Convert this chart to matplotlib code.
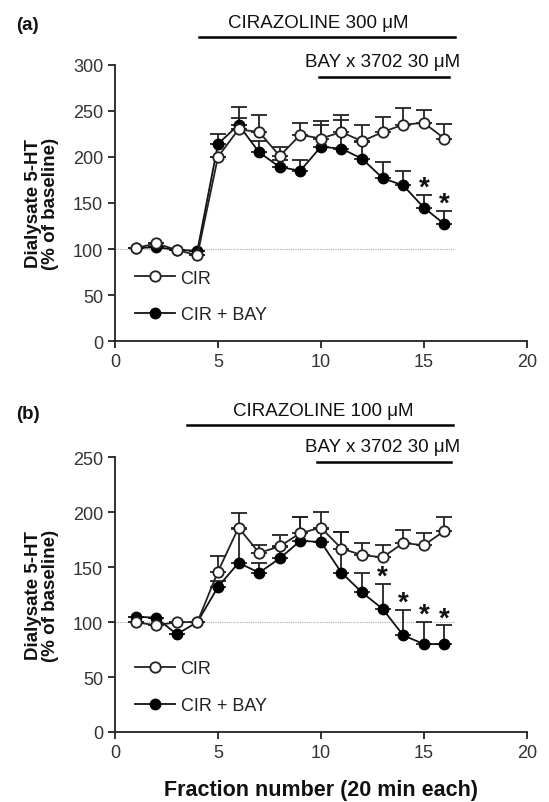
import matplotlib
matplotlib.use("Agg")
import matplotlib.pyplot as plt
import numpy as np

plt.rcParams['font.family'] = ['Liberation Sans', 'DejaVu Sans']

fractions = np.arange(1, 17)

# panel (a): cirazoline 300 uM
a_cir = [101, 106, 99, 93, 200, 230, 227, 201, 224, 220, 227, 217, 227, 235, 237, 220]
a_cir_err = [0, 0, 0, 0, 0, 24, 18, 10, 13, 19, 19, 18, 16, 18, 14, 16]
a_bay = [101, 102, 99, 98, 214, 235, 205, 189, 185, 211, 209, 198, 177, 169, 145, 127]
a_bay_err = [0, 0, 0, 0, 11, 7, 12, 8, 12, 24, 31, 18, 17, 16, 14, 14]
a_stars = [15, 16]

# panel (b): cirazoline 100 uM
b_cir = [100, 97, 100, 100, 146, 186, 163, 169, 181, 186, 167, 161, 159, 172, 170, 183]
b_cir_err = [0, 0, 0, 0, 14, 13, 7, 10, 15, 14, 15, 11, 11, 12, 11, 13]
b_bay = [105, 104, 89, 100, 132, 154, 145, 158, 174, 173, 145, 127, 112, 88, 80, 80]
b_bay_err = [0, 0, 0, 0, 5, 31, 9, 10, 22, 12, 37, 18, 23, 23, 20, 17]
b_stars = [13, 14, 15, 16]

panels = [
    dict(tag="(a)", cir=a_cir, cir_err=a_cir_err, bay=a_bay, bay_err=a_bay_err,
         stars=a_stars, ymax=300, cir_label="CIRAZOLINE 300 μM", cir_text_x=9.85,
         cir_span=(4.1, 16.5), cir_y=330, bay_span=(9.9, 16.2), bay_y=287,
         rect=[0.2095, 0.574, 0.750, 0.344], tag_y=1.115),
    dict(tag="(b)", cir=b_cir, cir_err=b_cir_err, bay=b_bay, bay_err=b_bay_err,
         stars=b_stars, ymax=250, cir_label="CIRAZOLINE 100 μM", cir_text_x=10.1,
         cir_span=(3.5, 16.4), cir_y=279, bay_span=(9.8, 16.3), bay_y=246,
         rect=[0.2095, 0.0872, 0.750, 0.342], tag_y=1.13),
]

fig = plt.figure(figsize=(5.49, 8.03), dpi=100)

for p in panels:
    ax = fig.add_axes(p["rect"])
    ymax = p["ymax"]
    ax.set_xlim(0, 20)
    ax.set_ylim(0, ymax)
    ax.spines['top'].set_visible(False)
    ax.spines['right'].set_visible(False)
    for s in ['left', 'bottom']:
        ax.spines[s].set_linewidth(1.3)
        ax.spines[s].set_color('#222222')
    ax.set_xticks([0, 5, 10, 15, 20])
    ax.set_yticks(np.arange(0, ymax + 1, 50))
    ax.tick_params(direction='out', length=5, width=1.3, labelsize=13,
                   colors='#222222', labelcolor='#333333')

    # baseline
    ax.plot([0, 16.5], [100, 100], color='#aaaaaa', lw=0.8, ls=(0, (1, 1)), zorder=1)

    # upper error bars only
    zeros = np.zeros(len(fractions))
    ax.errorbar(fractions, p["bay"], yerr=[zeros, p["bay_err"]], fmt='none',
                ecolor='#222222', elinewidth=1.3, capsize=5.5, capthick=1.3, zorder=2)
    ax.errorbar(fractions, p["cir"], yerr=[zeros, p["cir_err"]], fmt='none',
                ecolor='#222222', elinewidth=1.3, capsize=5.5, capthick=1.3, zorder=2)

    ax.plot(fractions, p["cir"], '-o', color='#222222', lw=1.3, ms=7.5,
            mfc='white', mec='#222222', mew=1.3, label="CIR", zorder=4)
    ax.plot(fractions, p["bay"], '-o', color='#111111', lw=1.3, ms=7.5,
            mfc='black', mec='black', label="CIR + BAY", zorder=3)

    # significance stars
    for f in p["stars"]:
        i = f - 1
        ax.text(f, p["bay"][i] + p["bay_err"][i] - ymax * 0.021, "*",
                ha='center', va='bottom', fontsize=20, fontweight='bold',
                color='#111111', zorder=6)

    # treatment bars
    ax.plot(p["cir_span"], [p["cir_y"]] * 2, color='black', lw=1.8, clip_on=False)
    ax.text(p["cir_text_x"], p["cir_y"] + ymax * 0.022, p["cir_label"],
            ha='center', va='bottom', fontsize=13.5, color='#111111')
    ax.plot(p["bay_span"], [p["bay_y"]] * 2, color='black', lw=1.8, clip_on=False)
    ax.text(13.0, p["bay_y"] + ymax * 0.025, "BAY x 3702 30 μM",
            ha='center', va='bottom', fontsize=13.5, color='#111111')

    ax.legend(loc='lower left', bbox_to_anchor=(0.01, 0.005), frameon=False,
              fontsize=13, handlelength=2.2, handletextpad=0.3, labelspacing=1.1,
              labelcolor='#222222')

    ax.set_ylabel("Dialysate 5-HT\n(% of baseline)", fontsize=13.5, fontweight='bold',
                  color='#111111', labelpad=10, linespacing=1.0)
    ax.text(-0.24, p["tag_y"], p["tag"], transform=ax.transAxes,
            fontsize=13.5, fontweight='bold', ha='left', va='bottom', color='#111111')

fig.text(0.585, 0.003, "Fraction number (20 min each)", ha='center', va='bottom',
         fontsize=15.5, fontweight='bold', color='#111111')

fig.savefig("out.png", dpi=100)
